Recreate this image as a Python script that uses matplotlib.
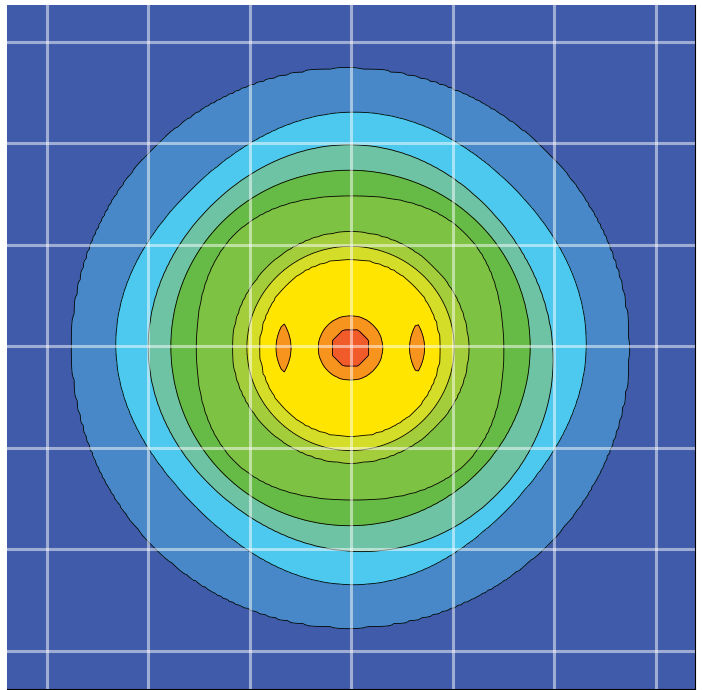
import numpy as np
import matplotlib
matplotlib.use('Agg')
import matplotlib.pyplot as plt

# Outer edge radius of each filled band (grid units), sampled every 45 degrees,
# counter-clockwise starting from +x.
ANGLES_DEG = [0, 45, 90, 135, 180, 225, 270, 315]
EDGE_1 = [2.74, 2.73, 2.75, 2.76, 2.74, 2.75, 2.75, 2.74]  # dark blue / mid blue
EDGE_2 = [2.32, 2.25, 2.32, 2.21, 2.31, 2.18, 2.33, 2.21]  # mid blue / cyan
EDGE_3 = [1.99, 1.93, 2.00, 1.96, 1.99, 1.93, 2.00, 2.04]  # cyan / teal
EDGE_4 = [1.77, 1.76, 1.75, 1.77, 1.77, 1.76, 1.75, 1.75]  # teal / green
EDGE_5 = [1.51, 1.60, 1.50, 1.60, 1.52, 1.60, 1.50, 1.61]  # green / light green
EDGE_6 = [1.16, 1.14, 1.14, 1.14, 1.16, 1.14, 1.13, 1.14]  # light green / lime
EDGE_7 = [1.02, 1.01, 1.00, 1.01, 1.02, 1.01, 1.01, 1.01]  # lime / pale yellow
EDGE_8 = [0.89, 0.88, 0.88, 0.89, 0.90, 0.89, 0.88, 0.89]  # pale yellow / yellow
CORE_RADIUS = 0.315   # orange disc
PEAK_RADIUS = 0.178   # red octagon
PEAK_VALUE = 9.9

# two small orange lobes left and right of the peak
LOBE_X = [-0.66, 0.655]
LOBE_HALF_WIDTH = 0.074
LOBE_HALF_HEIGHT = 0.25

CENTER = (-0.008, -0.016)

LEVELS = list(range(0, 12))
BAND_COLORS = ['#3F5BA9', '#4888C8', '#4DC8EE', '#6EC3A5', '#66BA46', '#7DC242',
               '#A3CD3A', '#D4DE28', '#FFE500', '#F7941E', '#F15A29']
GRID_TICKS = [-3, -2, -1, 0, 1, 2, 3]


def ring(samples, theta):
    # smooth periodic curve through the sampled radii
    n = len(samples)
    c = np.fft.rfft(samples) / n
    out = np.full_like(theta, c[0].real)
    for k in range(1, n // 2 + 1):
        w = 1.0 if k == n // 2 else 2.0
        out += w * (c[k].real * np.cos(k * theta) - c[k].imag * np.sin(k * theta))
    return out


xs = np.arange(-3.45, 3.46, 0.03)
ys = np.arange(-3.45, 3.46, 0.03)
X, Y = np.meshgrid(xs, ys)
dx = X - CENTER[0]
dy = Y - CENTER[1]
r = np.hypot(dx, dy)
theta = np.arctan2(dy, dx)

edges = [EDGE_8, EDGE_7, EDGE_6, EDGE_5, EDGE_4, EDGE_3, EDGE_2, EDGE_1]
rad = [np.zeros_like(r), np.full_like(r, CORE_RADIUS)]
rad += [ring(e, theta) for e in edges]
rad.append(np.full_like(r, 6.0))
rad = np.stack(rad)
vals = np.array([PEAK_VALUE, 9, 8, 7, 6, 5, 4, 3, 2, 1, 0], dtype=float)

idx = np.clip((r[None] >= rad).sum(0) - 1, 0, len(vals) - 2)
r0 = np.take_along_axis(rad, idx[None], 0)[0]
r1 = np.take_along_axis(rad, idx[None] + 1, 0)[0]
Z = vals[idx] + (r - r0) / (r1 - r0) * (vals[idx + 1] - vals[idx])

# octagonal red peak
r_oct = np.maximum(np.maximum(np.abs(dx), np.abs(dy)), (np.abs(dx) + np.abs(dy)) / np.sqrt(2))
Z = np.maximum(Z, 10 + 10 * (PEAK_RADIUS - r_oct))

# lens shaped side lobes, kept below the red level
for lx in LOBE_X:
    q = np.abs(dx - lx) / LOBE_HALF_WIDTH + (dy / LOBE_HALF_HEIGHT) ** 2
    Z = np.maximum(Z, 9 + 0.9 * (1 - q))
Z = np.clip(Z, 0, 10.9)

fig = plt.figure(figsize=(7.02, 6.90), dpi=100)
ax = fig.add_axes([7 / 702, 1 / 690, 688 / 702, 684 / 690])
ax.contourf(X, Y, Z, levels=LEVELS, colors=BAND_COLORS)
ax.contour(X, Y, Z, levels=LEVELS[1:-1], colors='black', linewidths=0.6)

ax.set_xlim(-3.391, 3.384)
ax.set_ylim(-3.374, 3.361)
ax.set_xticks(GRID_TICKS)
ax.set_yticks(GRID_TICKS)
ax.tick_params(length=0, labelbottom=False, labelleft=False)
ax.set_axisbelow(False)
ax.grid(True, color='white', alpha=0.5, linewidth=2.2)
for side in ['top', 'left']:
    ax.spines[side].set_visible(False)
for side in ['right', 'bottom']:
    ax.spines[side].set_linewidth(0.8)

fig.savefig('out.png', dpi=100, facecolor='white')
